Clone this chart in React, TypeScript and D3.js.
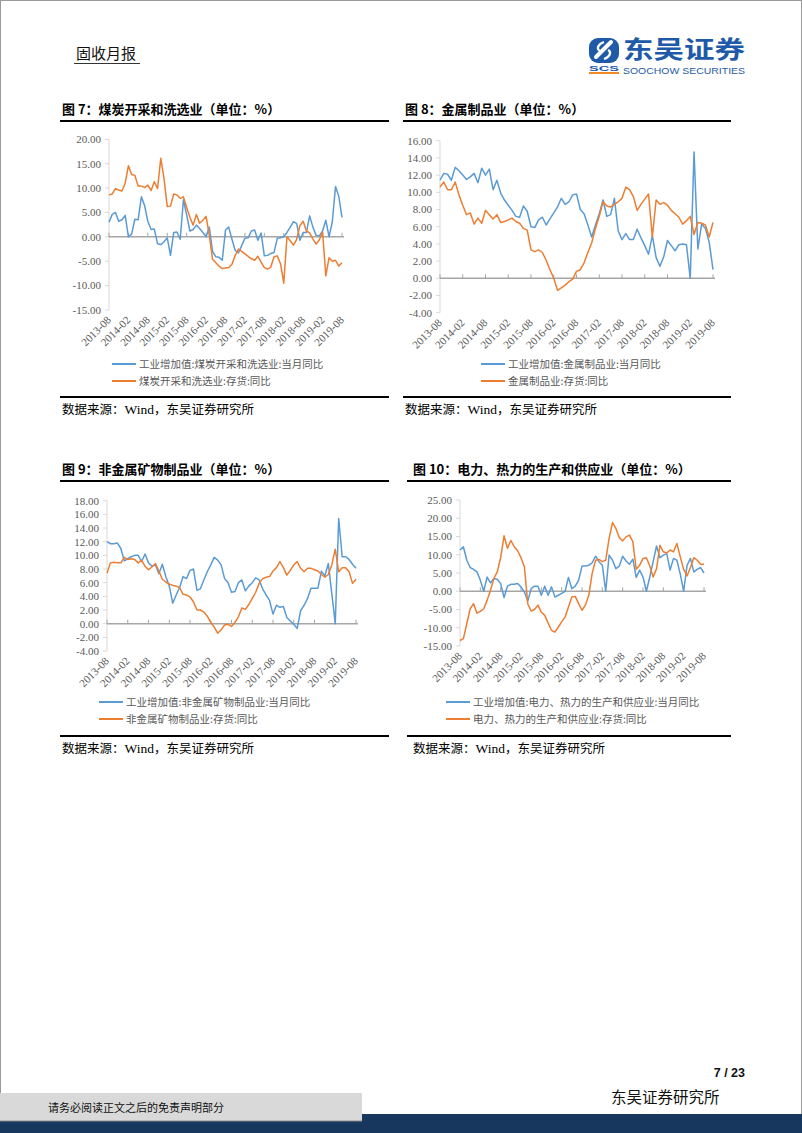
import React from "react";
import * as d3 from "d3";

// ---------- categories ----------
const months: string[] = d3.timeMonth
  .range(new Date(2013, 7, 1), new Date(2019, 8, 1))
  .map(d3.timeFormat("%Y-%m"));

const tickLabels = [
  "2013-08", "2014-02", "2014-08", "2015-02", "2015-08", "2016-02", "2016-08",
  "2017-02", "2017-08", "2018-02", "2018-08", "2019-02", "2019-08",
];

// ---------- 图7 煤炭开采和洗选业 ----------
const coalIVA = [
  3.0, 4.6, 5.0, 3.2, 3.5, 4.4, 0.0, 0.6, 3.6, 3.5,
  8.2, 6.4, 3.2, 1.5, 1.6, -1.4, -1.6, -1.0, -0.2, -3.8,
  0.9, 1.0, -0.5, 7.6, 4.5, 1.2, 1.5, 2.4, 1.7, 0.9,
  0.0, 2.0, -3.0, -4.1, -4.2, -4.8, 1.4, 2.0, -0.5, -2.8,
  -3.3, -1.8, -0.3, -0.2, 1.2, 1.4, -0.7, 0.8, -3.9, -3.8,
  -3.4, -3.2, -0.3, -0.2, 0.0, 0.9, 2.0, 3.1, 2.7, -0.7,
  0.9, 0.9, 4.3, 2.0, 0.3, 0.2, 1.2, 3.4, 0.0, 3.1,
  10.3, 8.3, 4.0,
];
const coalInv = [
  8.6, 8.8, 9.9, 9.6, 9.4, 11.0, 14.6, 12.8, 12.6, 10.4,
  10.4, 10.1, 10.6, 9.5, 11.3, 9.9, 16.1, 12.0, 6.2, 6.3,
  8.8, 8.6, 7.9, 8.2, 6.0, 4.0, 2.4, 4.6, 2.8, 3.4,
  4.2, 0.3, -4.6, -5.3, -6.0, -6.5, -6.4, -6.3, -5.6, -3.8,
  -2.5, -3.0, -3.5, -4.0, -4.5, -4.8, -4.0, -5.2, -6.3, -6.6,
  -6.2, -4.1, -3.9, -5.5, -9.5, 0.0, -0.8, -1.7, -0.5, 2.3,
  3.2, 1.2, 0.8, -0.4, -1.5, -0.6, 1.0, -8.0, -4.3, -5.0,
  -4.8, -6.0, -5.3,
];

// ---------- 图8 金属制品业 ----------
const metalIVA = [
  11.4, 12.2, 12.1, 11.4, 12.9, 12.5, 12.0, 11.5, 11.8, 12.2,
  11.1, 12.8, 12.0, 12.7, 10.3, 11.4, 9.9, 9.1, 8.5, 7.9,
  7.2, 7.1, 8.4, 7.8, 6.0, 5.9, 6.8, 7.1, 6.2, 6.9,
  7.6, 8.3, 9.3, 8.6, 8.9, 9.7, 9.8, 8.0, 7.5, 6.2,
  4.8, 6.2, 7.5, 9.1, 7.2, 7.4, 9.3, 5.5, 4.5, 5.2,
  4.5, 4.5, 5.7, 4.7, 3.8, 2.8, 5.0, 2.4, 1.4, 2.5,
  4.4, 3.8, 3.2, 3.9, 4.0, 3.9, 0.0, 14.7, 3.4, 6.3,
  5.8, 4.2, 1.0,
];
const metalInv = [
  10.6, 11.2, 10.3, 10.3, 11.2, 9.7, 8.5, 7.4, 7.6, 6.3,
  7.0, 6.4, 7.9, 7.4, 6.9, 7.4, 6.5, 6.6, 6.8, 7.0,
  6.6, 6.4, 5.8, 5.6, 3.3, 3.1, 3.3, 3.0, 2.1, 1.0,
  0.0, -1.4, -1.1, -0.8, -0.4, -0.1, 0.8, 1.0, 1.8, 3.0,
  4.1, 5.8, 7.2, 8.9, 8.4, 8.3, 8.6, 8.9, 9.3, 10.6,
  10.3, 9.5, 7.9, 8.6, 9.2, 9.8, 4.8, 9.1, 8.6, 8.8,
  8.5, 7.9, 7.5, 7.1, 6.3, 6.7, 7.2, 5.1, 6.5, 6.4,
  6.2, 4.8, 6.5,
];

// ---------- 图9 非金属矿物制品业 ----------
const nonmetalIVA = [
  12.0, 11.7, 11.7, 11.8, 11.0, 9.2, 9.5, 9.8, 10.0, 10.0,
  9.1, 10.2, 8.9, 8.4, 8.6, 7.3, 8.7, 6.9, 5.5, 3.0,
  4.2, 5.3, 6.9, 6.6, 7.8, 8.0, 4.9, 5.1, 6.4, 7.6,
  8.6, 9.7, 9.3, 8.6, 6.6, 6.0, 4.6, 4.7, 6.0, 6.4,
  4.8, 5.5, 6.0, 6.7, 6.4, 5.1, 4.2, 3.4, 1.4, 2.7,
  2.4, 2.5, 0.9, 0.4, -0.1, -0.7, 1.9, 2.7, 3.7, 5.2,
  5.2, 5.2, 7.7, 7.0, 8.8, 4.4, 0.0, 15.4, 9.8, 9.8,
  9.4, 8.7, 8.1,
];
const nonmetalInv = [
  7.4, 8.9, 9.0, 8.9, 8.9, 9.7, 9.4, 9.5, 9.4, 8.9,
  9.3, 8.4, 7.9, 8.3, 8.8, 7.7, 6.5, 6.1, 5.8, 5.6,
  5.5, 5.3, 4.3, 4.2, 3.9, 3.2, 2.0, 2.0, 1.7, 1.1,
  0.2, -0.5, -1.4, -0.9, -0.2, -0.1, -0.4, 0.2, 1.0, 2.3,
  2.1, 2.8, 3.7, 4.6, 5.9, 6.6, 6.8, 6.9, 7.7, 8.2,
  9.1, 8.2, 7.1, 7.8, 8.6, 9.1, 8.1, 7.6, 8.1, 8.1,
  7.9, 7.7, 7.2, 6.8, 7.2, 8.6, 10.9, 7.6, 8.2, 8.2,
  7.6, 5.9, 6.5,
];

// ---------- 图10 电力、热力的生产和供应业 ----------
const powerIVA = [
  11.3, 12.2, 8.5, 6.5, 6.0, 5.3, 3.0, 0.0, 3.9, 2.3,
  3.5, 3.3, 2.1, -1.7, 1.4, 1.9, 1.9, 2.1, 1.2, -0.2,
  -2.7, 0.7, 1.4, 1.4, -1.1, 1.4, -1.1, 1.2, -1.6, -1.1,
  -0.6, 0.0, 3.8, 0.7, 1.4, 3.0, 6.9, 6.9, 7.1, 7.8,
  9.6, 8.1, 7.1, 0.0, 9.9, 8.5, 6.2, 6.9, 9.6, 8.3,
  7.4, 8.8, 3.8, 5.8, 3.9, 0.0, 3.9, 8.1, 12.4, 9.2,
  9.9, 10.3, 5.8, 9.0, 8.5, 4.7, 0.0, 7.1, 9.0, 5.3,
  6.0, 6.5, 5.0,
];
const powerInv = [
  -13.5, -13.0, -8.9, -4.8, -3.4, -6.0, -5.5, -4.8, -2.5, 0.3,
  3.5, 5.3, 9.2, 15.2, 11.8, 13.9, 12.2, 11.1, 9.2, 6.7,
  -3.5, -5.4, -5.0, -3.8, -5.7, -6.6, -8.7, -10.7, -11.2, -9.8,
  -8.4, -7.1, -4.3, -1.6, -1.4, -3.4, -5.2, -3.8, -1.1, 4.9,
  8.5, 8.7, 8.1, 8.5, 14.5, 18.8, 17.2, 14.7, 13.8, 14.9,
  15.4, 13.6, 6.0, 7.1, 9.0, 9.2, 6.9, 3.9, 6.2, 12.6,
  10.8, 10.5, 11.3, 10.8, 13.1, 9.4, 6.0, 4.2, 6.5, 9.2,
  8.5, 7.4, 7.4,
];

// ---------- styles ----------
const BLUE = "#5B9BD5";
const ORANGE = "#ED7D31";
const AXIS_TEXT = "#595959";
const SERIF = "'Liberation Serif','Times New Roman',serif";
const CJK = "'Noto Sans CJK SC','Noto Sans',sans-serif";
const SANS = "'Liberation Sans',Arial,sans-serif";

type ChartProps = {
  blue: number[];
  orange: number[];
  min: number;
  max: number;
  step: number;
  x0: number;
  x1: number;
  yTop: number;
  yBot: number;
  legend: [string, string];
  legendX: number;
  legendY: number;
};

function LineChart(p: ChartProps) {
  const x = d3.scalePoint<string>().domain(months).range([p.x0, p.x1]);
  const y = d3.scaleLinear().domain([p.min, p.max]).range([p.yBot, p.yTop]);
  const yTicks = d3.range(p.min, p.max + p.step / 2, p.step);
  const line = d3
    .line<number>()
    .x((_, i) => x(months[i]) as number)
    .y((d) => y(d));
  const y0 = y(0);
  return (
    <g>
      <line x1={p.x0} x2={p.x0} y1={p.yTop} y2={p.yBot} stroke="#D9D9D9" strokeWidth={1} />
      {yTicks.map((t) => (
        <g key={t}>
          <line x1={p.x0 - 4} x2={p.x0} y1={y(t)} y2={y(t)} stroke="#D9D9D9" />
          <text
            x={p.x0 - 8}
            y={y(t)}
            dy="0.35em"
            textAnchor="end"
            fontFamily={SERIF}
            fontSize={11}
            fill={AXIS_TEXT}
          >
            {t.toFixed(2)}
          </text>
        </g>
      ))}
      <line x1={p.x0} x2={p.x1 + 2} y1={y0} y2={y0} stroke="#A6A6A6" strokeWidth={1.5} />
      {tickLabels.map((l) => (
        <line key={"t" + l} x1={x(l)} x2={x(l)} y1={y0 - 4} y2={y0} stroke="#A6A6A6" />
      ))}
      {tickLabels.map((l) => (
        <text
          key={"l" + l}
          transform={`translate(${x(l)},${p.yBot + 8}) rotate(-45)`}
          dy="0.35em"
          textAnchor="end"
          fontFamily={SERIF}
          fontSize={11}
          fill={AXIS_TEXT}
        >
          {l}
        </text>
      ))}
      <path d={line(p.blue) || ""} fill="none" stroke={BLUE} strokeWidth={1.5} strokeLinejoin="round" />
      <path d={line(p.orange) || ""} fill="none" stroke={ORANGE} strokeWidth={1.5} strokeLinejoin="round" />
      {[BLUE, ORANGE].map((c, k) => (
        <g key={c}>
          <line
            x1={p.legendX}
            x2={p.legendX + 24}
            y1={p.legendY + k * 17}
            y2={p.legendY + k * 17}
            stroke={c}
            strokeWidth={2}
          />
          <text
            x={p.legendX + 27}
            y={p.legendY + k * 17}
            dy="0.35em"
            fontFamily={CJK}
            fontSize={10.5}
            fill={AXIS_TEXT}
          >
            {p.legend[k]}
          </text>
        </g>
      ))}
    </g>
  );
}

function Title({ x, y, text }: { x: number; y: number; text: string }) {
  return (
    <text x={x} y={y} fontFamily={CJK} fontSize={13} fontWeight="bold" fill="#000">
      {text}
    </text>
  );
}

function Source({ x, y }: { x: number; y: number }) {
  return (
    <text x={x} y={y} fontFamily={CJK} fontSize={12.5} fill="#000">
      数据来源：<tspan fontFamily={SERIF} fontSize={13.5}>Wind</tspan>，东吴证券研究所
    </text>
  );
}

export default function App() {
  return (
    <div style={{ position: "absolute", left: 0, top: 0, width: 802, height: 1133, background: "#fff" }}>
      <svg width={802} height={1133} viewBox="0 0 802 1133" style={{ display: "block" }}>
        <rect x={0} y={0} width={802} height={1133} fill="#fff" />
        <rect x={0.5} y={0.5} width={801} height={1132} fill="none" stroke="#9a9a9a" />

        {/* header */}
        <text x={76} y={59} fontFamily={CJK} fontSize={15} fill="#111">固收月报</text>
        <line x1={74} x2={140} y1={63.5} y2={63.5} stroke="#333" strokeWidth={1} />
        {/* logo */}
        <g>
          <rect x={589} y={38} width={30} height={25} rx={9} fill="#1E5AA8" />
          <path d="M611,42 L596,57" stroke="#fff" strokeWidth={4} strokeLinecap="round" />
          <path d="M604,42 C598,44 596,49 600,51" stroke="#fff" strokeWidth={2.2} fill="none" />
          <path d="M604,59 C610,57 612,52 608,50" stroke="#fff" strokeWidth={2.2} fill="none" />
          <text x={589} y={70.5} fontFamily={SANS} fontWeight="bold" fontSize={8} fill="#1E5AA8" textLength={30} lengthAdjust="spacingAndGlyphs">
            SCS
          </text>
          <rect x={589} y={72} width={30} height={2} fill="#F08A24" />
          <text x={623} y={58} fontFamily={CJK} fontWeight="bold" fontSize={24} fill="#1E5AA8" textLength={122} lengthAdjust="spacingAndGlyphs">
            东吴证券
          </text>
          <text x={623} y={73.5} fontFamily={SANS} fontSize={8.5} fill="#1E5AA8" textLength={122} lengthAdjust="spacingAndGlyphs">
            SOOCHOW SECURITIES
          </text>
        </g>

        {/* row 1 */}
        <Title x={62} y={114} text="图 7：煤炭开采和洗选业（单位：%）" />
        <Title x={405} y={114} text="图 8：金属制品业（单位：%）" />
        <line x1={60} x2={389} y1={121} y2={121} stroke="#000" strokeWidth={2} />
        <line x1={403} x2={731} y1={121} y2={121} stroke="#000" strokeWidth={2} />

        <LineChart
          blue={coalIVA}
          orange={coalInv}
          min={-15}
          max={20}
          step={5}
          x0={109}
          x1={342}
          yTop={139.3}
          yBot={310}
          legend={["工业增加值:煤炭开采和洗选业:当月同比", "煤炭开采和洗选业:存货:同比"]}
          legendX={112}
          legendY={364}
        />
        <LineChart
          blue={metalIVA}
          orange={metalInv}
          min={-4}
          max={16}
          step={2}
          x0={440}
          x1={713}
          yTop={140.7}
          yBot={312.7}
          legend={["工业增加值:金属制品业:当月同比", "金属制品业:存货:同比"]}
          legendX={481}
          legendY={364}
        />

        <line x1={60} x2={389} y1={397} y2={397} stroke="#000" strokeWidth={2} />
        <line x1={403} x2={731} y1={397} y2={397} stroke="#000" strokeWidth={2} />
        <Source x={62} y={414} />
        <Source x={405} y={414} />

        {/* row 2 */}
        <Title x={62} y={474} text="图 9：非金属矿物制品业（单位：%）" />
        <Title x={413} y={474} text="图 10：电力、热力的生产和供应业（单位：%）" />
        <line x1={60} x2={389} y1={481} y2={481} stroke="#000" strokeWidth={2} />
        <line x1={407} x2={731} y1={481} y2={481} stroke="#000" strokeWidth={2} />

        <LineChart
          blue={nonmetalIVA}
          orange={nonmetalInv}
          min={-4}
          max={18}
          step={2}
          x0={107}
          x1={356}
          yTop={500.7}
          yBot={651}
          legend={["工业增加值:非金属矿物制品业:当月同比", "非金属矿物制品业:存货:同比"]}
          legendX={99}
          legendY={702}
        />
        <LineChart
          blue={powerIVA}
          orange={powerInv}
          min={-15}
          max={25}
          step={5}
          x0={460}
          x1={704}
          yTop={500}
          yBot={646}
          legend={["工业增加值:电力、热力的生产和供应业:当月同比", "电力、热力的生产和供应业:存货:同比"]}
          legendX={446}
          legendY={702}
        />

        <line x1={60} x2={389} y1={736} y2={736} stroke="#000" strokeWidth={2} />
        <line x1={407} x2={731} y1={736} y2={736} stroke="#000" strokeWidth={2} />
        <Source x={62} y={753} />
        <Source x={413} y={753} />

        {/* footer */}
        <text x={745} y={1077} textAnchor="end" fontFamily={SANS} fontWeight="bold" fontSize={12.5} fill="#111">
          7 / 23
        </text>
        <text x={611} y={1103} fontFamily={CJK} fontSize={15.5} fill="#111">东吴证券研究所</text>
        <rect x={0} y={1114} width={802} height={19} fill="#17375E" />
        <rect x={0} y={1093} width={362} height={28} fill="#D9D9D9" />
        <line x1={0} x2={362} y1={1121} y2={1121} stroke="#8C8C8C" strokeWidth={1} />
        <text x={48} y={1112} fontFamily={CJK} fontSize={11} fill="#111">请务必阅读正文之后的免责声明部分</text>
      </svg>
    </div>
  );
}
